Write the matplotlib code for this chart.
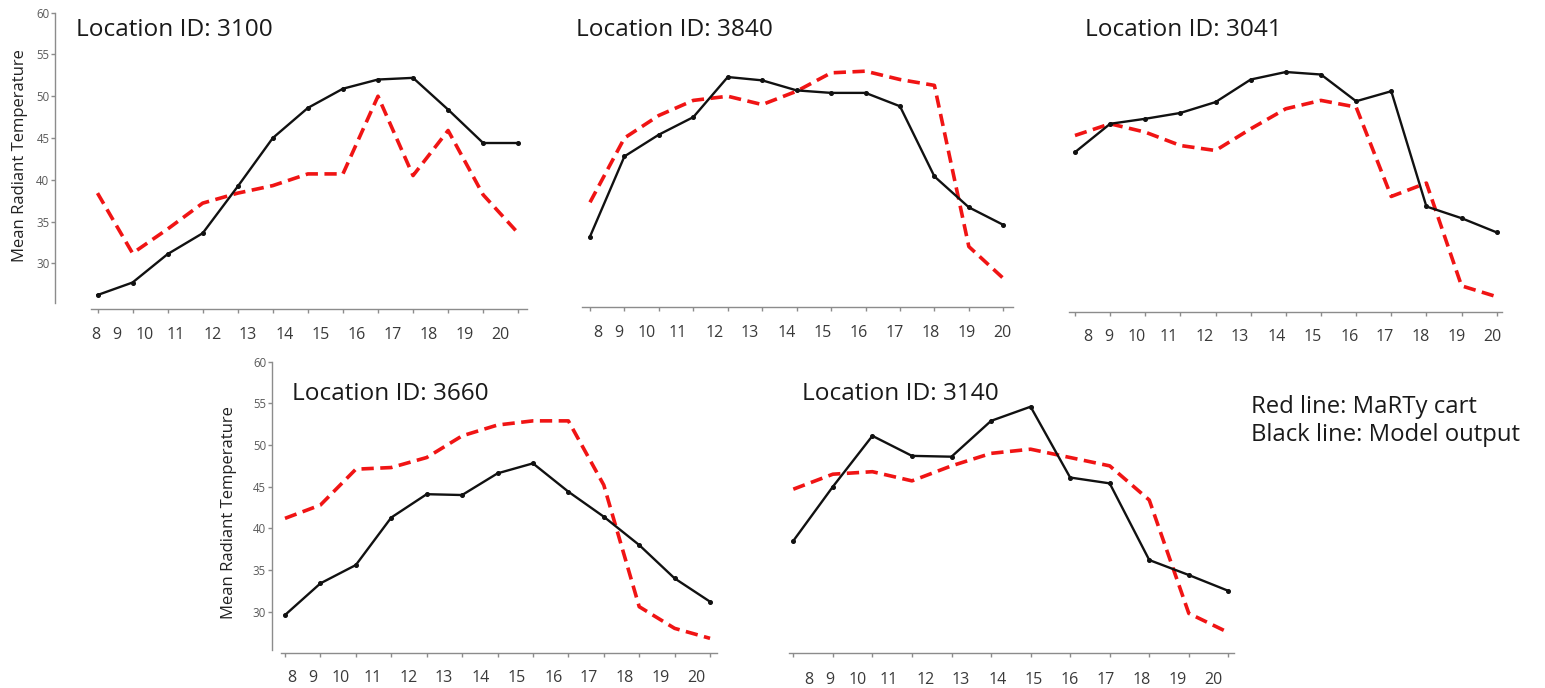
import matplotlib
matplotlib.use("Agg")
import matplotlib.pyplot as plt

# ---------------- data ----------------
hour_labels = ["8", "9", "10", "11", "12", "13", "14", "15", "16", "17", "18", "19", "20"]
location_ids = ["3100", "3840", "3041", "3660", "3140"]

model_3100 = [26.2, 27.7, 31.1, 33.6, 39.2, 45.0, 48.6, 50.9, 52.0, 52.2, 48.4, 44.4, 44.4]
marty_3100 = [38.4, 31.2, 34.1, 37.2, 38.4, 39.3, 40.7, 40.7, 50.0, 40.5, 45.9, 38.2, 33.6]

model_3840 = [33.2, 42.8, 45.4, 47.5, 52.3, 51.9, 50.7, 50.4, 50.4, 48.8, 40.4, 36.7, 34.6]
marty_3840 = [37.3, 45.0, 47.7, 49.5, 50.0, 49.0, 50.6, 52.8, 53.0, 52.0, 51.3, 32.0, 28.2]

model_3041 = [43.3, 46.7, 47.3, 48.0, 49.3, 52.0, 52.9, 52.6, 49.4, 50.6, 36.8, 35.4, 33.7]
marty_3041 = [45.3, 46.7, 45.7, 44.1, 43.5, 46.1, 48.5, 49.5, 48.7, 38.0, 39.6, 27.3, 26.0]

model_3660 = [29.6, 33.4, 35.6, 41.3, 44.1, 44.0, 46.6, 47.8, 44.4, 41.4, 38.0, 34.0, 31.2]
marty_3660 = [41.2, 42.8, 47.1, 47.3, 48.5, 51.1, 52.4, 52.9, 52.9, 45.2, 30.6, 28.0, 26.8]

model_3140 = [38.5, 45.0, 51.1, 48.7, 48.6, 52.9, 54.6, 46.1, 45.4, 36.2, 34.4, 32.5]
marty_3140 = [44.7, 46.5, 46.8, 45.7, 47.5, 49.0, 49.5, 48.5, 47.5, 43.4, 29.8, 27.5]

y_ticks = [30, 35, 40, 45, 50, 55, 60]
ylabel_text = "Mean Radiant Temperature"
legend_lines = ["Red line: MaRTy cart", "Black line: Model output"]

series = [
    (model_3100, marty_3100),
    (model_3840, marty_3840),
    (model_3041, marty_3041),
    (model_3660, marty_3660),
    (model_3140, marty_3140),
]

# ---------------- layout (pixels) ----------------
W, H = 1545, 688
DPI = 100
PT = 72.0 / DPI  # pixels -> points
layout = [
    dict(t0=97.5, sp=35.06, xl=91.3, xr=526.9, ay=309.0, y60=12.7, ppu=8.353, yb=303.0, ysx=55.1,
         anc=19.5, lb=30.0, tx=76.4, ty=36.0, ylab=(20.0, 156.0)),
    dict(t0=590.0, sp=34.44, xl=582.0, xr=1013.3, ay=307.0, y60=12.7, ppu=8.353, yb=303.0, ysx=None,
         anc=29.0, lb=30.0, tx=576.0, ty=36.0, ylab=None),
    dict(t0=1075.0, sp=35.14, xl=1069.0, xr=1502.0, ay=311.7, y60=12.7, ppu=8.353, yb=303.0, ysx=None,
         anc=34.3, lb=29.3, tx=1085.0, ty=36.0, ylab=None),
    dict(t0=285.0, sp=35.42, xl=281.0, xr=717.0, ay=653.3, y60=361.7, ppu=8.333, yb=650.0, ysx=271.7,
         anc=28.3, lb=28.7, tx=291.7, ty=400.0, ylab=(229.0, 512.5)),
    dict(t0=793.3, sp=39.55, xl=789.0, xr=1234.0, ay=653.3, y60=361.7, ppu=8.333, yb=650.0, ysx=None,
         anc=36.7, lb=31.0, tx=801.7, ty=400.0, ylab=None),
]
LABEL_STRIP_PX = [-21.5, 0, 27.5, 59, 95.2, 130.5, 167.5, 203.5, 240, 275.5, 311.5, 347.3, 383]

FONT = "Open Sans"
AXIS_GRAY = "#8c8c8c"
TICK_TXT = "#3a3a3a"
RED = "#f01414"
BLACK = "#111111"

fig = plt.figure(figsize=(W / DPI, H / DPI), dpi=DPI)
fig.patch.set_facecolor("white")

for (model, marty), lid, L in zip(series, location_ids, layout):
    left = L["xl"] / W
    width = (L["xr"] - L["xl"]) / W
    bottom = 1 - L["yb"] / H
    height = (L["yb"] - L["y60"]) / H
    ax = fig.add_axes([left, bottom, width, height])
    ax.set_facecolor("none")

    ymin = 60 - (L["yb"] - L["y60"]) / L["ppu"]
    ax.set_ylim(ymin, 60)
    ax.set_xlim((L["xl"] - L["t0"]) / L["sp"], (L["xr"] - L["t0"]) / L["sp"])

    x = list(range(len(model)))
    ax.plot(x, marty, color=RED, lw=2.6, linestyle=(0, (3.4, 1.8)), zorder=3,
            solid_capstyle="butt", dash_capstyle="butt")
    ax.plot(x, model, color=BLACK, lw=1.7, marker="o", markersize=2.6, zorder=4)

    for s in ("top", "right"):
        ax.spines[s].set_visible(False)
    ax.spines["bottom"].set_position(("outward", (L["ay"] - L["yb"]) * PT))
    ax.spines["bottom"].set_color(AXIS_GRAY)
    ax.spines["bottom"].set_linewidth(1.0)
    ax.set_xticks(x)
    ax.set_xticklabels([])
    ax.tick_params(axis="x", direction="out", length=4 * PT, width=1.0, color=AXIS_GRAY)

    if L["ysx"] is None:
        ax.spines["left"].set_visible(False)
        ax.set_yticks([])
    else:
        ax.spines["left"].set_position(("outward", (L["xl"] - L["ysx"]) * PT))
        ax.spines["left"].set_color(AXIS_GRAY)
        ax.spines["left"].set_linewidth(1.0)
        ax.set_yticks(y_ticks)
        ax.set_yticklabels([str(v) for v in y_ticks], fontsize=8.3, color="#5a5a5a",
                           family=FONT)
        ax.tick_params(axis="y", direction="out", length=4 * PT, width=1.0, color=AXIS_GRAY, pad=1.2)

    # hour labels strip below the axis
    offset_down = (L["ay"] - L["yb"]) + L["lb"]
    for lbl, dx in zip(hour_labels, LABEL_STRIP_PX):
        ax.annotate(lbl, xy=(0, 0), xycoords=("data", "axes fraction"),
                    xytext=(L["anc"] + dx, -offset_down), textcoords="offset pixels",
                    ha="center", va="baseline", fontsize=11.5, color=TICK_TXT,
                    family=FONT, annotation_clip=False)

    fig.text(L["tx"] / W, 1 - L["ty"] / H, f"Location ID: {lid}", ha="left", va="baseline",
             fontsize=17.6, color="#1a1a1a", family=FONT)

    if L["ylab"] is not None:
        fig.text(L["ylab"][0] / W, 1 - L["ylab"][1] / H, ylabel_text, rotation=90,
                 ha="center", va="center", fontsize=12, color="#222222", family=FONT)

fig.text(1250.7 / W, 1 - 413.3 / H, legend_lines[0], ha="left", va="baseline",
         fontsize=17.2, color="#1a1a1a", family=FONT)
fig.text(1250.7 / W, 1 - 441.0 / H, legend_lines[1], ha="left", va="baseline",
         fontsize=17.2, color="#1a1a1a", family=FONT)

fig.savefig("out.png", dpi=DPI, facecolor="white")
